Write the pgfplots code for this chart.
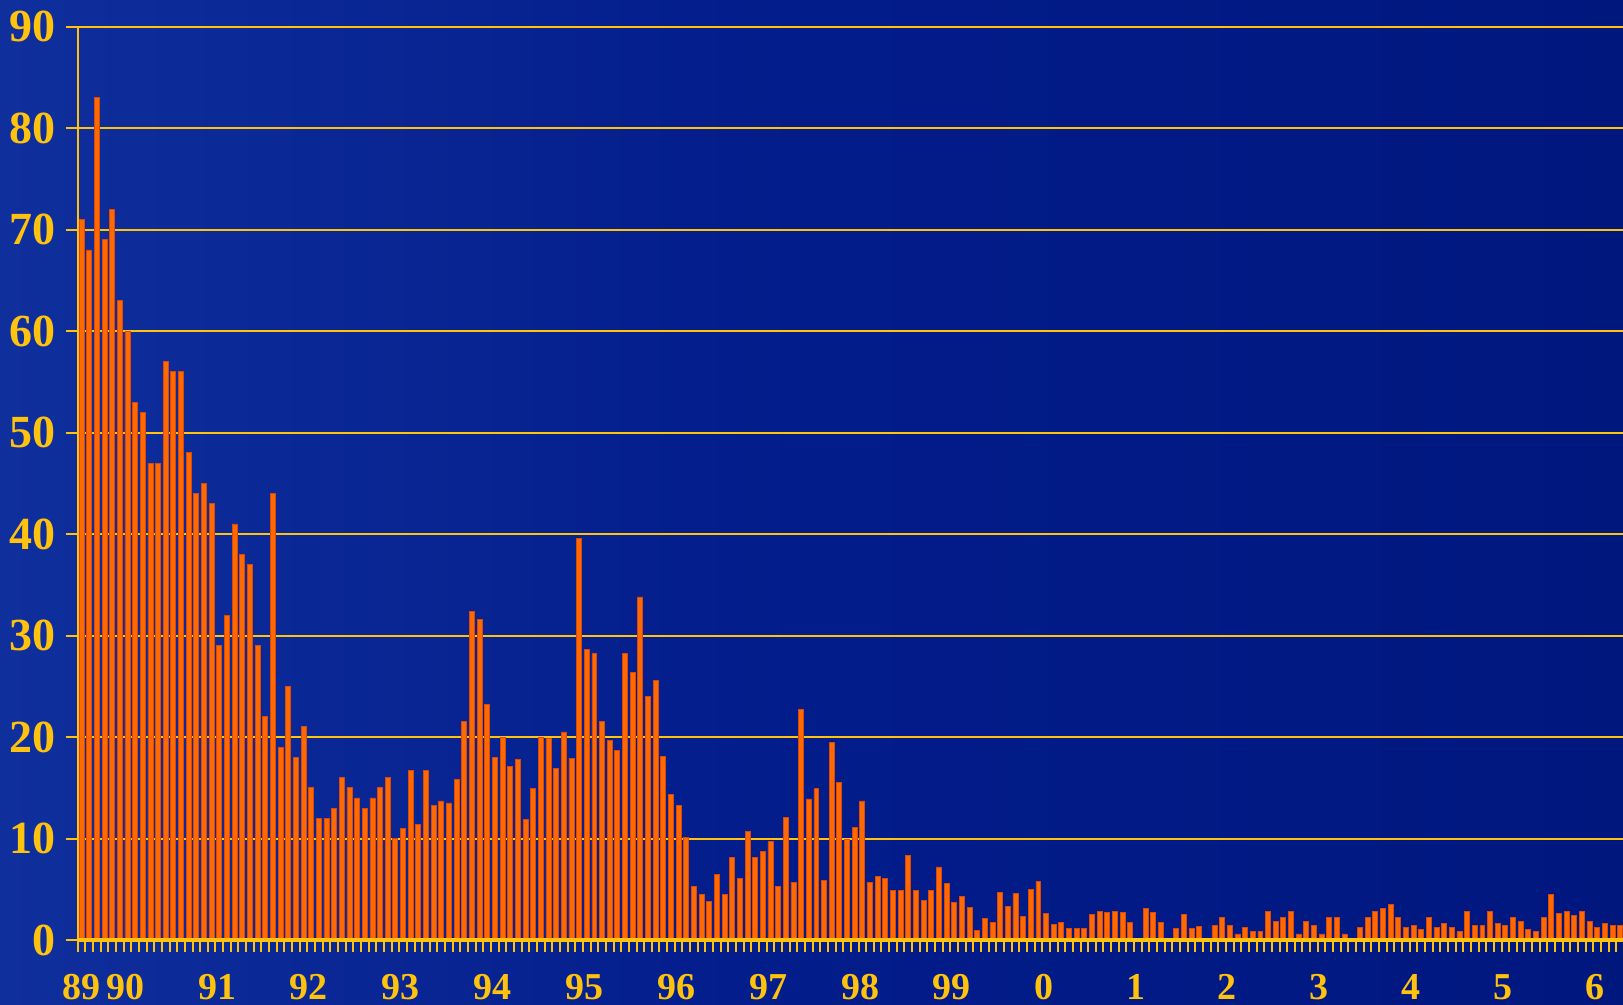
\documentclass[border=0pt]{standalone}
\usepackage{fontspec}
\setmainfont{Liberation Serif}
\usepackage{pgfplots}
\usepackage{pgfplotstable}
\pgfplotsset{compat=1.18}
\definecolor{gold}{HTML}{FFC20E}
\definecolor{barfill}{HTML}{FF6A00}
\definecolor{baredge}{HTML}{D9480F}
\definecolor{bgL}{HTML}{0F2F9C}
\definecolor{bgM}{HTML}{021C8A}
\definecolor{bgR}{HTML}{00177E}

\pgfplotstableread{
k v
1 71
2 68
3 83
4 69
5 72
6 63
7 60
8 53
9 52
10 47
11 47
12 57
13 56
14 56
15 48
16 44
17 45
18 43
19 29
20 32
21 41
22 38
23 37
24 29
25 22
26 44
27 19
28 25
29 18
30 21
31 15
32 12
33 12
34 13
35 16
36 15
37 14
38 13
39 14
40 15
41 16
42 10
43 11
44 16.7
45 11.4
46 16.7
47 13.3
48 13.7
49 13.5
50 15.8
51 21.5
52 32.4
53 31.6
54 23.2
55 18.0
56 20.0
57 17.1
58 17.8
59 11.9
60 14.9
61 20.0
62 19.9
63 16.9
64 20.5
65 17.9
66 39.6
67 28.6
68 28.2
69 21.5
70 19.7
71 18.7
72 28.2
73 26.4
74 33.8
75 24.0
76 25.6
77 18.1
78 14.3
79 13.3
80 10.1
81 5.3
82 4.5
83 3.8
84 6.5
85 4.5
86 8.1
87 6.1
88 10.7
89 8.1
90 8.7
91 9.7
92 5.3
93 12.1
94 5.7
95 22.7
96 13.9
97 14.9
98 5.9
99 19.5
100 15.5
101 9.9
102 11.1
103 13.7
104 5.7
105 6.3
106 6.1
107 4.9
108 4.9
109 8.3
110 4.9
111 3.9
112 4.9
113 7.2
114 5.6
115 3.7
116 4.3
117 3.2
118 0.9
119 2.1
120 1.7
121 4.7
122 3.3
123 4.6
124 2.3
125 5.0
126 5.8
127 2.6
128 1.5
129 1.7
130 1.1
131 1.1
132 1.1
133 2.5
134 2.8
135 2.7
136 2.8
137 2.7
138 1.7
139 0
140 3.1
141 2.7
142 1.7
143 0.1
144 1.1
145 2.5
146 1.1
147 1.3
148 0.15
149 1.4
150 2.2
151 1.4
152 0.6
153 1.2
154 0.8
155 0.8
156 2.8
157 1.8
158 2.2
159 2.8
160 0.6
161 1.8
162 1.4
163 0.6
164 2.2
165 2.2
166 0.6
167 0
168 1.2
169 2.2
170 2.8
171 3.1
172 3.5
173 2.2
174 1.2
175 1.4
176 1.0
177 2.2
178 1.2
179 1.6
180 1.2
181 0.8
182 2.8
183 1.4
184 1.4
185 2.8
186 1.6
187 1.4
188 2.2
189 1.8
190 1.0
191 0.8
192 2.2
193 4.5
194 2.6
195 2.8
196 2.4
197 2.8
198 1.8
199 1.2
200 1.6
201 1.4
202 1.4
}\data

\begin{document}
\begin{tikzpicture}
\useasboundingbox (0,0) rectangle (811.5pt,502.5pt);
\shade[left color=bgL, right color=bgR, middle color=bgM] (0,0) rectangle (811.5pt,502.5pt);
\begin{axis}[
  at={(38.85pt,32.5pt)}, anchor=south west,
  scale only axis, width=772.65pt, height=456.65pt,
  xmin=0.5, xmax=202.37, ymin=0, ymax=90,
  axis lines*=left,
  axis line style={gold, line width=1pt, -},
  x axis line style={line width=1.6pt},
  ymajorgrids,
  grid style={gold, line width=1pt},
  tick align=outside,
  major tick length=6pt,
  tick style={gold, line width=1pt},
  ytick={0,10,...,90},
  /pgf/number format/assume math mode=true,
  yticklabel style={font=\bfseries\fontsize{23}{23}\selectfont, text=gold, anchor=east, inner sep=0pt, xshift=-5pt},
  xtick={0.5,1.5,...,202.5},
  xticklabels={},
  extra x ticks={1,6.7,18.7,30.7,42.7,54.7,66.7,78.7,90.7,102.7,114.7,126.7,138.7,150.7,162.7,174.7,186.7,198.7},
  extra x tick labels={89,90,91,92,93,94,95,96,97,98,99,0,1,2,3,4,5,6},
  extra x tick style={major tick length=0pt, grid=none,
    xticklabel style={font=\bfseries\fontsize{19}{19}\selectfont, text=gold, anchor=base, inner sep=0pt, yshift=-30pt}},
  clip=true,
]
\addplot[ybar, bar width=0.65, fill=barfill, draw=baredge, line width=0.4pt] table[x=k, y=v] {\data};
\draw[gold, line width=1.6pt] (rel axis cs:0,0) -- (rel axis cs:1,0);
\end{axis}
\end{tikzpicture}
\end{document}
